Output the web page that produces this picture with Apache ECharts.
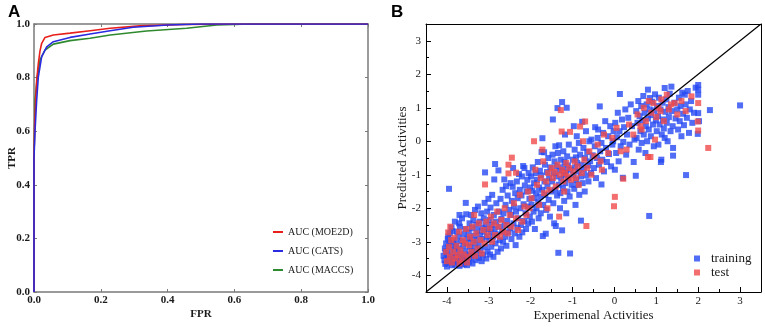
<!DOCTYPE html>
<html>
<head>
<meta charset="utf-8">
<script src="https://cdn.jsdelivr.net/npm/echarts@6/dist/echarts.min.js"></script>
<style>
html, body { margin: 0; padding: 0; background: #fff; }
#container { width: 765px; height: 327px; }
</style>
</head>
<body>
<div id="container"></div>
<script>
// ROC curves, [FPR, TPR]
const rocMoe2d = [[0, 0], [0, 0.5], [0.002, 0.62], [0.005, 0.72], [0.008, 0.79], [0.013, 0.853], [0.018, 0.9], [0.023, 0.928], [0.033, 0.95], [0.058, 0.959], [0.108, 0.966], [0.168, 0.975], [0.228, 0.984], [0.317, 0.993], [0.45, 0.998], [0.6, 1], [1, 1]]
const rocCats = [[0, 0], [0, 0.5], [0.003, 0.6], [0.008, 0.716], [0.013, 0.803], [0.023, 0.878], [0.038, 0.915], [0.058, 0.934], [0.108, 0.95], [0.168, 0.963], [0.228, 0.975], [0.297, 0.988], [0.4, 0.996], [0.5, 1], [1, 1]]
const rocMaccs = [[0, 0], [0, 0.5], [0.002, 0.62], [0.003, 0.716], [0.01, 0.803], [0.018, 0.866], [0.033, 0.903], [0.058, 0.925], [0.108, 0.938], [0.168, 0.947], [0.228, 0.959], [0.337, 0.974], [0.457, 0.984], [0.547, 0.996], [0.65, 1], [1, 1]]

// scatter, [experimental, predicted]
const training = [
    [-4.08,-3.42],[-4.06,-3.55],[-4.05,-3.2],[-4.04,-3.66],[-4.02,-3.05],[-4.01,-3.38],[-4.0,-3.74],[-3.98,-2.92],[-3.97,-3.5],[-3.96,-3.15],
    [-3.95,-1.42],[-3.94,-3.62],[-3.93,-2.75],[-3.92,-3.3],[-3.9,-3.45],[-3.89,-2.58],[-3.88,-3.7],[-3.86,-3.1],[-3.85,-2.95],[-3.84,-3.58],
    [-3.82,-3.25],[-3.81,-2.4],[-3.8,-3.68],[-3.78,-3.02],[-3.77,-3.4],[-3.76,-2.7],[-3.74,-3.55],[-3.73,-2.85],[-3.72,-3.2],[-3.7,-3.72],
    [-3.69,-2.55],[-3.68,-3.35],[-3.66,-3.6],[-3.65,-2.98],[-3.64,-2.3],[-3.62,-3.48],[-3.61,-3.12],[-3.6,-2.78],[-3.58,-3.66],[-3.57,-3.28],
    [-3.56,-2.62],[-3.55,-3.44],[-3.54,-2.18],[-3.53,-3.05],[-3.52,-3.7],[-3.51,-2.9],[-3.9,-3.58],[-3.83,-3.45],[-3.75,-3.62],[-3.67,-3.52],
    [-3.59,-3.58],[-3.97,-2.85],[-3.87,-2.68],[-3.71,-2.45],[-3.63,-3.68],[-3.79,-3.15],[-4.03,-3.28],[-3.94,-3.02],[-3.55,-1.84],[-3.7,-2.2],
    [-3.49,-3.38],[-3.48,-2.72],[-3.47,-3.6],[-3.46,-2.45],[-3.45,-3.15],[-3.44,-2.9],[-3.43,-3.5],[-3.42,-2.2],[-3.41,-3.28],[-3.4,-2.6],
    [-3.39,-3.65],[-3.38,-3.02],[-3.37,-2.35],[-3.36,-3.42],[-3.35,-2.82],[-3.33,-2.05],[-3.32,-3.18],[-3.31,-3.55],[-3.3,-2.5],[-3.29,-2.95],
    [-3.28,-3.35],[-3.27,-2.68],[-3.26,-1.95],[-3.24,-3.1],[-3.23,-3.48],[-3.22,-2.4],[-3.21,-2.78],[-3.2,-3.25],[-3.18,-2.15],[-3.17,-3.58],
    [-3.16,-2.58],[-3.15,-2.92],[-3.14,-3.4],[-3.12,-2.3],[-3.11,-2.7],[-3.1,-1.84],[-3.09,-0.93],[-3.08,-3.15],[-3.07,-2.48],[-3.06,-3.5],
    [-3.05,-2.85],[-3.04,-2.1],[-3.03,-3.3],[-3.02,-2.62],[-3.01,-1.72],
    [-2.99,-2.95],[-2.98,-2.35],[-2.97,-3.38],[-2.96,-1.98],[-2.95,-2.7],[-2.94,-3.15],[-2.93,-2.5],[-2.92,-1.6],[-2.9,-2.85],[-2.89,-3.45],
    [-2.88,-2.2],[-2.87,-1.14],[-2.86,-2.62],[-2.85,-0.68],[-2.84,-3.05],[-2.83,-2.4],[-2.82,-1.85],[-2.8,-2.78],[-2.79,-3.3],[-2.77,-0.87],
    [-2.76,-2.1],[-2.75,-2.55],[-2.74,-2.95],[-2.72,-1.72],[-2.71,-3.2],[-2.7,-2.32],[-2.68,-2.68],[-2.67,-1.45],[-2.66,-3.0],[-2.65,-2.15],
    [-2.63,-1.14],[-2.62,-2.5],[-2.61,-2.85],[-2.6,-1.9],[-2.59,-1.34],[-2.58,-3.12],[-2.56,-2.38],[-2.55,-1.62],[-2.53,-2.72],[-2.51,-2.05],
    [-2.49,-2.6],[-2.48,-1.25],[-2.47,-2.2],[-2.46,-2.92],[-2.45,-1.78],[-2.43,-1.36],[-2.42,-0.8],[-2.41,-2.45],[-2.4,-1.95],[-2.38,-2.75],
    [-2.37,-1.55],[-2.36,-3.1],[-2.35,-2.1],[-2.33,-1.2],[-2.32,-2.58],[-2.31,-1.7],[-2.3,-2.3],[-2.28,-0.98],[-2.27,-2.85],[-2.26,-1.45],
    [-2.25,-2.0],[-2.23,-2.5],[-2.22,-1.62],[-2.21,-1.05],[-2.2,-2.72],[-2.18,-0.74],[-2.17,-1.88],[-2.16,-2.38],[-2.15,-0.8],[-2.14,-1.32],
    [-2.12,-2.15],[-2.11,-2.62],[-2.1,-1.5],[-2.08,-1.15],[-2.07,-1.95],[-2.06,-2.45],[-2.05,-0.95],[-2.03,-1.72],[-2.02,-2.25],[-2.01,-1.38],
    [-1.99,-1.05],[-1.98,-1.9],[-1.97,-2.4],[-1.96,-1.48],[-1.95,-0.78],[-1.93,-2.1],[-1.92,-1.25],[-1.91,-1.7],[-1.9,-2.62],[-1.88,-0.95],
    [-1.87,-1.55],[-1.86,-2.0],[-1.85,-1.15],[-1.83,-0.62],[-1.82,-1.82],[-1.81,-2.3],[-1.8,-1.38],[-1.78,-0.88],[-1.77,-1.65],[-1.76,-2.15],
    [-1.75,-1.02],[-1.74,-0.32],[-1.73,-1.45],[-1.72,0.09],[-1.71,-2.83],[-1.7,-1.9],[-1.68,-0.33],[-1.67,-1.2],[-1.66,-0.7],[-1.65,-1.6],
    [-1.64,-2.76],[-1.63,-2.05],[-1.61,-0.92],[-1.6,-1.35],[-1.58,-0.5],[-1.57,-1.75],[-1.56,-1.1],[-1.54,-2.25],[-1.53,-0.78],[-1.51,-1.5],
    [-1.49,-1.2],[-1.48,-0.4],[-1.47,0.65],[-1.46,-1.85],[-1.45,-0.95],[-1.44,-2.45],[-1.43,-0.6],[-1.42,-1.45],[-1.41,-0.15],[-1.4,-2.53],
    [-1.39,-1.05],[-1.38,-0.75],[-1.37,-1.62],[-1.36,0.99],[-1.35,-0.35],[-1.34,-3.33],[-1.33,-1.3],[-1.32,-0.12],[-1.31,-0.88],[-1.3,-2.0],
    [-1.29,-1.55],[-1.28,-0.55],[-1.27,-1.12],[-1.25,1.17],[-1.25,-2.66],[-1.24,-0.78],[-1.23,-1.4],[-1.22,-0.3],[-1.21,-1.0],[-1.2,-1.78],
    [-1.19,-0.62],[-1.18,0.2],[-1.17,-1.25],[-1.16,-0.9],[-1.15,-2.15],[-1.14,1.0],[-1.13,-0.45],[-1.12,-1.5],[-1.11,-0.72],[-1.1,-1.1],
    [-1.09,-0.1],[-1.07,-1.65],[-1.06,-3.35],[-1.05,-0.85],[-1.02,-1.3],
    [-0.99,-0.55],[-0.98,-1.0],[-0.97,0.45],[-0.96,-1.42],[-0.95,-0.25],[-0.94,-0.78],[-0.93,-1.9],[-0.92,-0.48],[-0.91,-1.15],[-0.9,0.15],
    [-0.89,-0.65],[-0.88,-1.3],[-0.86,-0.9],[-0.85,-0.05],[-0.84,-1.6],[-0.82,-0.4],[-0.8,-2.37],[-0.8,-1.05],[-0.78,-0.7],[-0.77,0.58],
    [-0.76,-1.25],[-0.74,-0.2],[-0.73,-0.85],[-0.71,-1.5],[-0.7,-0.5],[-0.68,0.3],[-0.67,-1.02],[-0.65,-0.32],[-0.63,-0.72],[-0.62,-1.2],
    [-0.6,0.0],[-0.58,-0.6],[-0.56,-0.95],[-0.55,0.05],[-0.52,-0.42],
    [-0.49,-0.8],[-0.47,-0.15],[-0.46,0.42],[-0.44,-1.1],[-0.42,-0.5],[-0.4,0.1],[-0.39,0.35],[-0.37,-0.7],[-0.35,1.04],[-0.34,-0.3],
    [-0.31,-0.05],[-0.31,-1.29],[-0.29,-0.55],[-0.27,0.25],[-0.25,-0.9],[-0.22,0.6],[-0.2,-0.2],[-0.18,-0.62],[-0.15,0.15],[-0.13,-0.38],
    [-0.1,0.45],[-0.08,-0.75],[-0.05,-0.1],[-0.03,0.0],[-0.02,0.3],
    [0.01,-0.85],[0.02,0.55],[0.04,-0.35],[0.06,0.12],[0.08,0.85],[0.1,-0.6],[0.12,0.3],[0.13,1.41],[0.15,-0.15],[0.18,0.65],
    [0.2,-1.09],[0.21,-0.02],[0.23,0.42],[0.26,0.95],[0.28,-0.4],[0.3,0.2],[0.33,0.7],[0.36,-0.1],[0.39,1.1],[0.42,0.45],
    [0.46,-0.62],[0.48,0.05],
    [0.51,-1.03],[0.52,0.9],[0.53,0.1],[0.55,0.55],[0.57,1.2],[0.58,-0.25],[0.6,0.75],[0.62,0.3],[0.64,1.05],[0.65,-0.05],
    [0.67,0.62],[0.69,1.35],[0.7,0.2],[0.72,0.85],[0.74,-0.35],[0.75,0.45],[0.77,1.1],[0.78,0.0],[0.8,1.54],[0.8,0.68],
    [0.82,0.35],[0.83,-2.23],[0.84,0.95],[0.85,1.29],[0.87,0.15],[0.88,0.78],[0.9,1.18],[0.92,0.5],[0.94,-0.15],[0.95,0.92],
    [0.97,1.4],[0.99,0.62],
    [1.01,0.3],[1.02,1.05],[1.04,0.75],[1.05,-0.1],[1.06,1.3],[1.08,0.5],[1.1,0.95],[1.11,-0.62],[1.12,-0.55],[1.13,0.2],
    [1.15,1.15],[1.16,0.65],[1.18,0.38],[1.2,1.59],[1.2,0.1],[1.22,0.88],[1.24,1.25],[1.25,0.55],[1.27,0.0],[1.29,1.02],
    [1.3,0.72],[1.32,1.42],[1.34,0.3],[1.36,1.63],[1.37,0.9],[1.39,0.45],[1.4,-0.2],[1.4,-0.43],[1.43,1.15],[1.46,0.68],
    [1.5,0.95],[1.52,0.35],[1.54,1.3],[1.56,0.6],[1.58,1.05],[1.6,0.15],[1.62,1.45],[1.64,0.82],[1.66,0.48],[1.68,1.39],
    [1.7,1.1],[1.71,-1.01],[1.73,0.7],[1.75,1.5],[1.78,0.25],[1.8,0.95],[1.83,1.2],[1.86,0.55],[1.9,0.85],[1.94,1.6],
    [2.0,1.68],[2.0,1.54],[2.0,1.39],[2.0,0.84],[1.99,0.22],[2.02,0.6],
    [2.28,0.93],[3.0,1.07]
]
const test = [
    [-4.02,-3.3],[-4.0,-3.58],[-3.97,-2.72],[-3.95,-3.15],[-3.93,-3.45],[-3.9,-2.95],[-3.88,-3.62],[-3.85,-3.3],[-3.82,-2.88],[-3.8,-3.5],
    [-3.77,-3.12],[-3.74,-3.4],[-3.71,-2.7],[-3.68,-3.25],[-3.65,-3.55],[-3.62,-2.95],[-3.6,-3.38],[-3.57,-3.05],[-3.54,-2.62],[-3.5,-3.45],
    [-3.47,-3.1],[-3.45,-2.85],[-3.42,-3.3],[-3.39,-2.55],[-3.36,-3.0],[-3.33,-3.42],[-3.3,-2.75],[-3.27,-3.2],[-3.24,-2.45],[-3.2,-2.95],
    [-3.17,-3.35],[-3.13,-2.65],[-3.1,-3.05],[-3.09,-1.29],[-3.06,-2.4],[-3.03,-2.8],[-3.92,-2.55],[-3.7,-3.65],[-3.52,-3.62],[-3.35,-2.2],
    [-2.98,-2.6],[-2.95,-2.25],[-2.92,-3.0],[-2.88,-2.45],[-2.85,-2.8],[-2.8,-2.1],[-2.77,-2.55],[-2.73,-2.85],[-2.7,-2.35],[-2.66,-2.7],
    [-2.62,-2.0],[-2.58,-2.5],[-2.55,-2.75],[-2.53,-0.96],[-2.53,-0.7],[-2.5,-2.2],[-2.46,-2.55],[-2.45,-0.49],[-2.4,-1.85],[-2.35,-0.94],
    [-2.35,-2.3],[-2.3,-2.65],[-2.26,-1.6],[-2.2,-2.4],[-2.15,-1.95],[-2.1,-2.2],[-2.06,-1.5],[-2.03,-2.0],[-1.98,-1.7],
    [-1.92,0.0],[-1.89,-0.85],[-1.85,-1.3],[-1.8,-1.9],[-1.76,-1.1],[-1.7,-0.6],[-1.68,-1.55],[-1.63,-1.2],[-1.58,-0.95],[-1.55,-1.45],
    [-1.5,-0.8],[-1.47,-1.1],[-1.43,-0.92],[-1.4,-1.35],[-1.36,-0.7],[-1.32,-2.25],[-1.3,-1.0],[-1.28,0.93],[-1.26,0.29],[-1.25,-0.85],
    [-1.22,-1.2],[-1.18,-0.95],[-1.15,-0.65],[-1.12,-1.05],[-1.08,-0.8],[-1.06,0.28],[-1.04,-1.15],[-1.6,-2.0],[-1.2,-1.5],[-1.72,-0.25],
    [-0.98,-0.9],[-0.95,-0.6],[-0.92,-1.1],[-0.88,-0.75],[-0.85,-1.3],[-0.82,0.44],[-0.78,-0.95],[-0.75,0.0],[-0.72,-0.55],[-0.7,0.59],
    [-0.67,-2.53],[-0.65,-0.8],[-0.6,-0.3],[-0.55,-1.0],[-0.48,-0.45],[-0.4,-0.1],[-0.33,-0.6],[-0.25,0.2],[-0.15,-0.35],[-0.05,0.1],
    [-0.01,-1.94],[0.01,-1.66],[0.05,0.4],[0.15,-0.3],[0.21,-1.12],[0.29,-0.25],[0.35,0.5],[0.45,0.2],[0.55,0.8],[0.62,0.45],
    [0.65,0.35],[0.7,1.0],[0.75,0.6],[0.8,-0.47],[0.82,1.2],[0.86,-0.47],[0.88,0.85],[0.93,1.14],[0.97,0.05],[1.0,0.72],
    [1.05,1.0],[1.1,0.9],[1.12,1.25],[1.18,0.6],[1.25,1.39],[1.3,0.95],[1.35,1.1],[1.44,1.14],[1.5,0.8],[1.6,1.2],
    [1.7,0.9],[1.84,1.34],[1.99,0.59],[2.0,1.14],[2.0,0.32],[2.24,-0.2],[-0.3,-0.85]
]
const identityLine = [[-4.5, -4.5], [3.5, 3.5]]
const intTicks = [-4, -3, -2, -1, 0, 1, 2, 3]

const serif = 'Liberation Serif'
const grayFrame = '#7a7a7a'

const myChart = echarts.init(document.getElementById('container'))

const labelA = { fontFamily: serif, fontWeight: 'bold', fontSize: 11, color: '#1a1a1a' }
const labelB = { fontFamily: serif, fontSize: 11, color: '#1a1a1a' }

const option = {
    backgroundColor: '#fff',
    animation: false,
    graphic: [
        { type: 'text', left: 8, top: 4, style: { text: 'A', font: 'bold 17px Liberation Sans', fill: '#000' } },
        { type: 'text', left: 391, top: 4, style: { text: 'B', font: 'bold 17px Liberation Sans', fill: '#000' } }
    ],
    grid: [
        { left: 34, top: 24, width: 334, height: 268 },
        { left: 426, top: 24, width: 335, height: 269 }
    ],
    legend: [
        {
            data: ['AUC (MOE2D)', 'AUC (CATS)', 'AUC (MACCS)'],
            orient: 'vertical',
            left: 273,
            top: 227,
            padding: 0,
            itemWidth: 10,
            itemHeight: 2,
            itemGap: 9,
            icon: 'rect',
            textStyle: { fontFamily: serif, fontSize: 10, color: '#1a1a1a' }
        },
        {
            data: ['training', 'test'],
            orient: 'vertical',
            left: 694,
            top: 252,
            padding: 0,
            itemWidth: 6,
            itemHeight: 6,
            itemGap: 1,
            icon: 'rect',
            textStyle: { fontFamily: serif, fontSize: 13, color: '#1a1a1a', padding: [0, 0, 0, 6] }
        }
    ],
    xAxis: [
        {
            gridIndex: 0, type: 'value', min: 0, max: 1, interval: 0.2,
            name: 'FPR', nameLocation: 'middle', nameGap: 17, nameMoveOverlap: false,
            nameTextStyle: { fontFamily: serif, fontWeight: 'bold', fontSize: 11, color: '#1a1a1a' },
            axisLine: { onZero: false, lineStyle: { color: grayFrame, width: 1.5 } },
            axisTick: { inside: true, length: 3, lineStyle: { color: grayFrame } },
            axisLabel: Object.assign({ margin: 3, formatter: v => v.toFixed(1) }, labelA),
            splitLine: { show: false }
        },
        {
            gridIndex: 0, type: 'value', min: 0, max: 1, interval: 0.2, position: 'top',
            axisLine: { onZero: false, lineStyle: { color: grayFrame, width: 1.5 } },
            axisTick: { inside: true, length: 3, lineStyle: { color: grayFrame } },
            axisLabel: { show: false },
            splitLine: { show: false }
        },
        {
            gridIndex: 1, type: 'value', min: -4.5, max: 3.5, position: 'bottom',
            name: 'Experimenal Activities', nameLocation: 'middle', nameGap: 17, nameMoveOverlap: false,
            nameTextStyle: { fontFamily: serif, fontSize: 13, color: '#1a1a1a' },
            axisLine: { onZero: false, lineStyle: { color: '#000', width: 1 } },
            axisTick: { inside: true, length: 5, customValues: intTicks, lineStyle: { color: '#000' } },
            axisLabel: Object.assign({ margin: 4, customValues: intTicks }, labelB),
            splitLine: { show: false }
        },
        {
            gridIndex: 1, type: 'value', min: -4.5, max: 3.5, interval: 0.5, position: 'bottom',
            axisLine: { onZero: false, show: false },
            axisTick: { inside: true, length: 3, lineStyle: { color: '#000' } },
            axisLabel: { show: false },
            splitLine: { show: false }
        },
        {
            gridIndex: 1, type: 'value', min: -4.5, max: 3.5, position: 'top',
            axisLine: { onZero: false, lineStyle: { color: '#000', width: 1 } },
            axisTick: { show: false },
            axisLabel: { show: false },
            splitLine: { show: false }
        }
    ],
    yAxis: [
        {
            gridIndex: 0, type: 'value', min: 0, max: 1, interval: 0.2,
            name: 'TPR', nameLocation: 'middle', nameGap: 16, nameMoveOverlap: false,
            nameTextStyle: { fontFamily: serif, fontWeight: 'bold', fontSize: 11, color: '#1a1a1a' },
            axisLine: { onZero: false, lineStyle: { color: grayFrame, width: 1.5 } },
            axisTick: { inside: true, length: 3, lineStyle: { color: grayFrame } },
            axisLabel: Object.assign({ margin: 4, formatter: v => v.toFixed(1) }, labelA),
            splitLine: { show: false }
        },
        {
            gridIndex: 0, type: 'value', min: 0, max: 1, interval: 0.2, position: 'right',
            axisLine: { onZero: false, lineStyle: { color: grayFrame, width: 1.5 } },
            axisTick: { inside: true, length: 3, lineStyle: { color: grayFrame } },
            axisLabel: { show: false },
            splitLine: { show: false }
        },
        {
            gridIndex: 1, type: 'value', min: -4.5, max: 3.5, position: 'left',
            name: 'Predicted Activities', nameLocation: 'middle', nameGap: 17, nameMoveOverlap: false,
            nameTextStyle: { fontFamily: serif, fontSize: 13, color: '#1a1a1a' },
            axisLine: { onZero: false, lineStyle: { color: '#000', width: 1 } },
            axisTick: { inside: true, length: 5, customValues: intTicks, lineStyle: { color: '#000' } },
            axisLabel: Object.assign({ margin: 5, customValues: intTicks }, labelB),
            splitLine: { show: false }
        },
        {
            gridIndex: 1, type: 'value', min: -4.5, max: 3.5, interval: 0.5, position: 'left',
            axisLine: { onZero: false, show: false },
            axisTick: { inside: true, length: 3, lineStyle: { color: '#000' } },
            axisLabel: { show: false },
            splitLine: { show: false }
        },
        {
            gridIndex: 1, type: 'value', min: -4.5, max: 3.5, position: 'right',
            axisLine: { onZero: false, lineStyle: { color: '#000', width: 1 } },
            axisTick: { show: false },
            axisLabel: { show: false },
            splitLine: { show: false }
        }
    ],
    series: [
        {
            name: 'AUC (MACCS)', type: 'line', xAxisIndex: 0, yAxisIndex: 0,
            data: rocMaccs, showSymbol: false, z: 2,
            lineStyle: { color: '#2f8a2f', width: 1.6 }, itemStyle: { color: '#2f8a2f' }
        },
        {
            name: 'AUC (MOE2D)', type: 'line', xAxisIndex: 0, yAxisIndex: 0,
            data: rocMoe2d, showSymbol: false, z: 3,
            lineStyle: { color: '#e8201c', width: 1.6 }, itemStyle: { color: '#e8201c' }
        },
        {
            name: 'AUC (CATS)', type: 'line', xAxisIndex: 0, yAxisIndex: 0,
            data: rocCats, showSymbol: false, z: 4,
            lineStyle: { color: '#2a2ae0', width: 1.6 }, itemStyle: { color: '#2a2ae0' }
        },
        {
            name: 'training', type: 'scatter', xAxisIndex: 2, yAxisIndex: 2,
            data: training, symbol: 'rect', symbolSize: 6, z: 2,
            itemStyle: { color: '#2548f2' }
        },
        {
            name: 'test', type: 'scatter', xAxisIndex: 2, yAxisIndex: 2,
            data: test, symbol: 'rect', symbolSize: 6, z: 3,
            itemStyle: { color: '#f04a4a' }
        },
        {
            name: 'identity', type: 'line', xAxisIndex: 2, yAxisIndex: 2,
            data: identityLine, showSymbol: false, z: 5, silent: true,
            lineStyle: { color: '#000', width: 1.2 }
        }
    ]
}

myChart.setOption(option)
</script>
</body>
</html>
